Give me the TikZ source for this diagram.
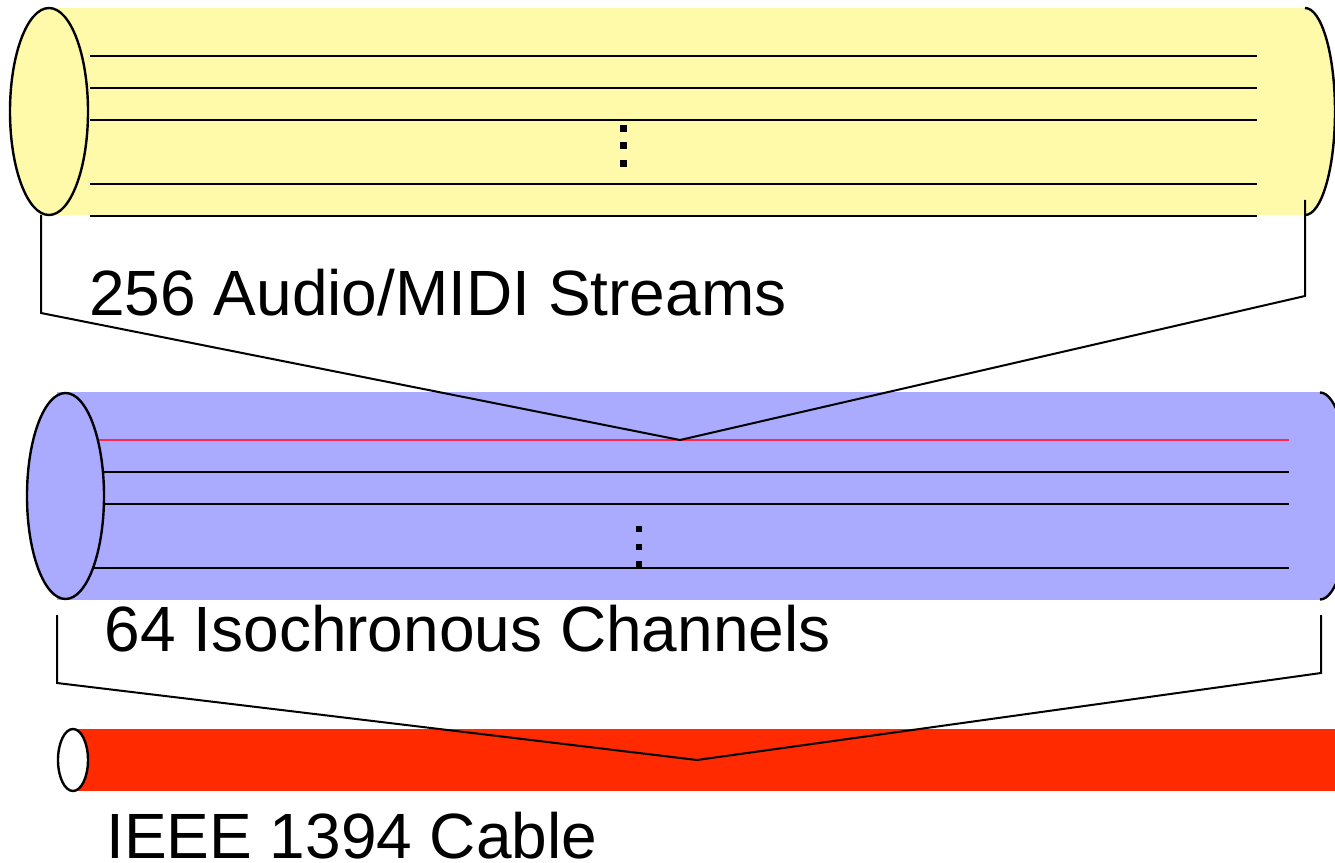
\documentclass[tikz,border=0pt]{standalone}
\usepackage{fontspec}
\setmainfont{Liberation Sans}
\definecolor{streamfill}{RGB}{255,250,170}
\definecolor{chanfill}{RGB}{170,170,255}
\definecolor{cablefill}{RGB}{255,42,0}
\definecolor{chanred}{RGB}{255,40,80}
\begin{document}
\begin{tikzpicture}[x=0.75pt,y=-0.75pt,
  wire/.style={line width=1.5pt},
  rim/.style={draw=black,line width=1.8pt},
  brace/.style={draw=black,line width=1.5pt,line join=miter},
  lbl/.style={anchor=base west,inner sep=0pt,font=\fontsize{48}{50}\selectfont},
  dotsq/.style={fill=black}]
\useasboundingbox (0,0) rectangle (1335,863);
\clip (0,0) rectangle (1335,863);

% ---- 256 streams (yellow tube) ----
\fill[streamfill] (40,8) rectangle (1305,215);
\filldraw[fill=streamfill,rim] (1305,8) arc[start angle=-90,end angle=90,x radius=30,y radius=103.5];
\foreach \yy in {56,88,120,184,216}
  \draw[wire] (90,\yy) -- (1257,\yy);
\foreach \yy in {129,146,164}
  \fill[dotsq] (620,\yy-3.5) rectangle (627,\yy+3.5);
\filldraw[fill=streamfill,rim] (49,111.5) ellipse[x radius=39,y radius=103.5];
\node[lbl] (streams) at (89,315) {256 Audio/MIDI Streams};

% ---- 64 channels (blue tube) ----
\fill[chanfill] (57,392) rectangle (1320,600);
\filldraw[fill=chanfill,rim] (1320,392.5) arc[start angle=-90,end angle=90,x radius=30,y radius=103.5];
\draw[wire,chanred] (60,440) -- (1289,440);
\foreach \yy in {472,504,568}
  \draw[wire] (60,\yy) -- (1289,\yy);
\foreach \yy in {529,547,564}
  \fill[dotsq] (636,\yy-3) rectangle (642,\yy+3);
\filldraw[fill=chanfill,rim] (65.5,496) ellipse[x radius=38.5,y radius=103];
\node[lbl] (channels) at (104.5,651) {64 Isochronous Channels};

% streams funnel into one channel
\coordinate (sL) at (41,215);
\coordinate (sR) at (1305,200);
\coordinate (sApex) at (680,440);
\draw[brace] (sL) -- (41,313) -- (sApex) -- (1305,296) -- (sR);

% ---- IEEE 1394 cable (red tube) ----
\fill[cablefill] (73,728.5) rectangle (1340,791);
\filldraw[fill=white,rim] (73,760) ellipse[x radius=15,y radius=31];
\node[lbl] (cable) at (106,858) {IEEE 1394 Cable};

% channels funnel into the cable
\coordinate (cL) at (57,615);
\coordinate (cR) at (1321,615);
\coordinate (cApex) at (697,760);
\draw[brace] (cL) -- (57,683) -- (cApex) -- (1321,673) -- (cR);
\end{tikzpicture}
\end{document}
